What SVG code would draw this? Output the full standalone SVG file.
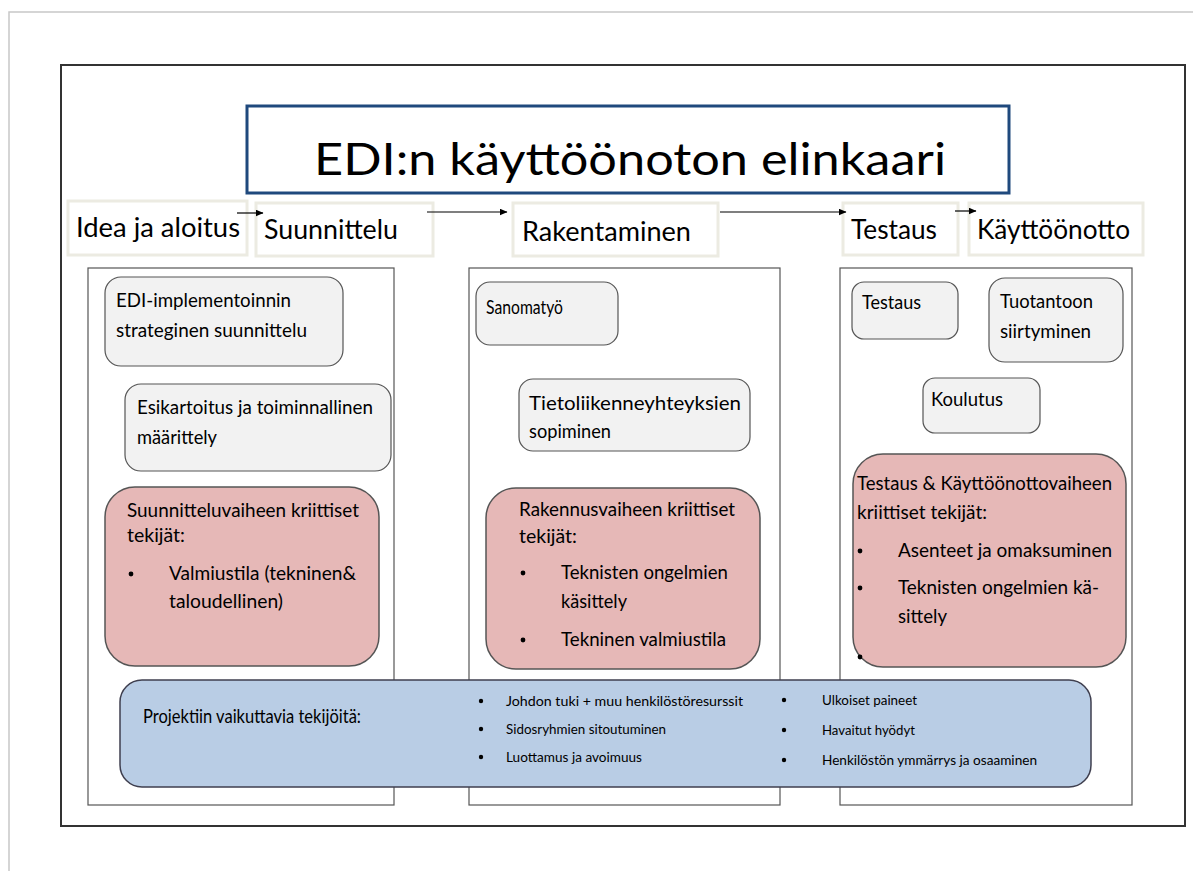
<svg xmlns="http://www.w3.org/2000/svg" width="1193" height="871" viewBox="0 0 1193 871">
  <style>
    text { font-family: Lato, "Open Sans", "Liberation Sans", sans-serif; fill: #000; }
    .title { font-size: 45px; }
    .phase { font-size: 26px; }
    .phase-box { fill: #fff; stroke: #ecebe2; stroke-width: 3; }
    .column { fill: #fff; stroke: #555; stroke-width: 1.2; }
    .task { fill: #f2f2f2; stroke: #555; stroke-width: 1.2; }
    .task-text { font-size: 19.5px; }
    .critical { fill: #e6b8b7; stroke: #555; stroke-width: 1.5; }
    .crit-text { font-size: 18.5px; }
    .factors { fill: #b9cde5; stroke: #3f3f4f; stroke-width: 1.5; }
    .small { font-size: 13px; }
    .connector { stroke: #000; stroke-width: 1.2; fill: none; marker-end: url(#arrow); }
    .dot { fill: #000; }
  </style>
  <defs>
    <marker id="arrow" markerWidth="8" markerHeight="7" refX="7.5" refY="3.5" orient="auto" markerUnits="userSpaceOnUse">
      <path d="M0,0 L8,3.5 L0,7 Z" fill="#000"/>
    </marker>
  </defs>

  <rect width="1193" height="871" fill="#fff"/>
  <!-- page edge -->
  <path d="M9,871 V12 H1193" fill="none" stroke="#c8c8c8" stroke-width="1.5"/>
  <!-- outer frame -->
  <rect x="61" y="65" width="1124" height="761" fill="#fff" stroke="#333" stroke-width="2"/>

  <!-- title -->
  <g id="title">
    <rect x="247" y="106" width="762" height="87" fill="#fff" stroke="#1f497d" stroke-width="3"/>
    <text class="title" x="314" y="175" textLength="632" lengthAdjust="spacingAndGlyphs">EDI:n käyttöönoton elinkaari</text>
  </g>

  <!-- lifecycle phases -->
  <g id="phase-idea">
    <rect class="phase-box" x="68" y="201" width="179" height="54"/>
    <text class="phase" x="76" y="237" textLength="164" lengthAdjust="spacingAndGlyphs">Idea ja aloitus</text>
  </g>
  <g id="phase-suunnittelu">
    <rect class="phase-box" x="256" y="203" width="177" height="53"/>
    <text class="phase" x="264" y="239" textLength="134" lengthAdjust="spacingAndGlyphs">Suunnittelu</text>
  </g>
  <g id="phase-rakentaminen">
    <rect class="phase-box" x="513" y="203" width="205" height="53"/>
    <text class="phase" x="522" y="241" textLength="169" lengthAdjust="spacingAndGlyphs">Rakentaminen</text>
  </g>
  <g id="phase-testaus">
    <rect class="phase-box" x="843" y="203" width="115" height="52"/>
    <text class="phase" x="851" y="239" textLength="86" lengthAdjust="spacingAndGlyphs">Testaus</text>
  </g>
  <g id="phase-kayttoonotto">
    <rect class="phase-box" x="969" y="203" width="174" height="52"/>
    <text class="phase" x="977" y="239" textLength="153" lengthAdjust="spacingAndGlyphs">Käyttöönotto</text>
  </g>

  <!-- arrows between phases -->
  <g id="connectors">
    <line class="connector" x1="237" y1="213" x2="263" y2="213"/>
    <line class="connector" x1="427" y1="212" x2="507" y2="212"/>
    <line class="connector" x1="720" y1="212" x2="846" y2="212"/>
    <line class="connector" x1="955" y1="211" x2="976" y2="211"/>
  </g>

  <!-- phase columns -->
  <g id="column-suunnittelu">
    <rect class="column" x="88" y="268" width="306" height="537"/>
  </g>
  <g id="column-rakentaminen">
    <rect class="column" x="469" y="268" width="311" height="537"/>
  </g>
  <g id="column-testaus">
    <rect class="column" x="840" y="268" width="292" height="537"/>
  </g>

  <!-- planning column -->
  <g id="task-strategia">
    <rect class="task" x="105" y="277" width="238" height="89" rx="16"/>
    <text class="task-text" x="116" y="307" textLength="175" lengthAdjust="spacingAndGlyphs">EDI-implementoinnin</text>
    <text class="task-text" x="116" y="337" textLength="191" lengthAdjust="spacingAndGlyphs">strateginen suunnittelu</text>
  </g>
  <g id="task-esikartoitus">
    <rect class="task" x="125" y="384" width="266" height="87" rx="16"/>
    <text class="task-text" x="137" y="414" textLength="236" lengthAdjust="spacingAndGlyphs">Esikartoitus ja toiminnallinen</text>
    <text class="task-text" x="137" y="444" textLength="80" lengthAdjust="spacingAndGlyphs">määrittely</text>
  </g>
  <g id="critical-suunnittelu">
    <rect class="critical" x="105" y="487" width="274" height="179" rx="30"/>
    <text class="crit-text" x="127" y="517" textLength="232" lengthAdjust="spacingAndGlyphs">Suunnitteluvaiheen kriittiset</text>
    <text class="crit-text" x="127" y="542" textLength="58" lengthAdjust="spacingAndGlyphs">tekijät:</text>
    <circle class="dot" cx="131" cy="574" r="2.4"/>
    <text class="crit-text" x="169" y="580" textLength="187" lengthAdjust="spacingAndGlyphs">Valmiustila (tekninen&amp;</text>
    <text class="crit-text" x="169" y="608" textLength="114" lengthAdjust="spacingAndGlyphs">taloudellinen)</text>
  </g>

  <!-- construction column -->
  <g id="task-sanomatyo">
    <rect class="task" x="476" y="282" width="142" height="63" rx="14"/>
    <text class="task-text" x="486" y="314" textLength="77" lengthAdjust="spacingAndGlyphs">Sanomatyö</text>
  </g>
  <g id="task-tietoliikenne">
    <rect class="task" x="519" y="379" width="231" height="72" rx="14"/>
    <text class="task-text" x="529" y="410" textLength="212" lengthAdjust="spacingAndGlyphs">Tietoliikenneyhteyksien</text>
    <text class="task-text" x="529" y="438" textLength="82" lengthAdjust="spacingAndGlyphs">sopiminen</text>
  </g>
  <g id="critical-rakentaminen">
    <rect class="critical" x="486" y="488" width="274" height="181" rx="30"/>
    <text class="crit-text" x="519" y="516" textLength="216" lengthAdjust="spacingAndGlyphs">Rakennusvaiheen kriittiset</text>
    <text class="crit-text" x="519" y="543" textLength="58" lengthAdjust="spacingAndGlyphs">tekijät:</text>
    <circle class="dot" cx="523" cy="573" r="2.4"/>
    <text class="crit-text" x="561" y="579" textLength="167" lengthAdjust="spacingAndGlyphs">Teknisten ongelmien</text>
    <text class="crit-text" x="561" y="608" textLength="66" lengthAdjust="spacingAndGlyphs">käsittely</text>
    <circle class="dot" cx="523" cy="640" r="2.4"/>
    <text class="crit-text" x="561" y="646" textLength="165" lengthAdjust="spacingAndGlyphs">Tekninen valmiustila</text>
  </g>

  <!-- testing and deployment column -->
  <g id="task-testaus">
    <rect class="task" x="852" y="282" width="106" height="57" rx="12"/>
    <text class="task-text" x="862" y="309" textLength="59" lengthAdjust="spacingAndGlyphs">Testaus</text>
  </g>
  <g id="task-tuotantoon">
    <rect class="task" x="989" y="278" width="134" height="84" rx="16"/>
    <text class="task-text" x="1000" y="308" textLength="93" lengthAdjust="spacingAndGlyphs">Tuotantoon</text>
    <text class="task-text" x="1000" y="338" textLength="91" lengthAdjust="spacingAndGlyphs">siirtyminen</text>
  </g>
  <g id="task-koulutus">
    <rect class="task" x="923" y="378" width="117" height="55" rx="12"/>
    <text class="task-text" x="931" y="406" textLength="72" lengthAdjust="spacingAndGlyphs">Koulutus</text>
  </g>
  <g id="critical-testaus">
    <rect class="critical" x="853" y="454" width="273" height="213" rx="30"/>
    <text class="crit-text" x="857" y="490" textLength="255" lengthAdjust="spacingAndGlyphs">Testaus &amp; Käyttöönottovaiheen</text>
    <text class="crit-text" x="857" y="519" textLength="130" lengthAdjust="spacingAndGlyphs">kriittiset tekijät:</text>
    <circle class="dot" cx="860" cy="551" r="2.4"/>
    <text class="crit-text" x="898" y="557" textLength="214" lengthAdjust="spacingAndGlyphs">Asenteet ja omaksuminen</text>
    <circle class="dot" cx="860" cy="588" r="2.4"/>
    <text class="crit-text" x="898" y="594" textLength="201" lengthAdjust="spacingAndGlyphs">Teknisten ongelmien kä-</text>
    <text class="crit-text" x="898" y="623" textLength="49" lengthAdjust="spacingAndGlyphs">sittely</text>
    <circle class="dot" cx="860" cy="657" r="2.4"/>
  </g>

  <!-- factors affecting the whole project -->
  <g id="project-factors">
    <rect class="factors" x="120" y="680" width="971" height="107" rx="22"/>
    <text x="143" y="723" font-size="20" textLength="218" lengthAdjust="spacingAndGlyphs">Projektiin vaikuttavia tekijöitä:</text>
    <circle class="dot" cx="481" cy="701" r="2.2"/>
    <circle class="dot" cx="481" cy="729" r="2.2"/>
    <circle class="dot" cx="481" cy="757" r="2.2"/>
    <text class="small" x="506" y="706" textLength="237" lengthAdjust="spacingAndGlyphs">Johdon tuki + muu henkilöstöresurssit</text>
    <text class="small" x="506" y="734" textLength="160" lengthAdjust="spacingAndGlyphs">Sidosryhmien sitoutuminen</text>
    <text class="small" x="506" y="762" textLength="136" lengthAdjust="spacingAndGlyphs">Luottamus ja avoimuus</text>
    <circle class="dot" cx="784" cy="700" r="2.2"/>
    <circle class="dot" cx="784" cy="730" r="2.2"/>
    <circle class="dot" cx="784" cy="760" r="2.2"/>
    <text class="small" x="822" y="705" textLength="95" lengthAdjust="spacingAndGlyphs">Ulkoiset paineet</text>
    <text class="small" x="822" y="735" textLength="93" lengthAdjust="spacingAndGlyphs">Havaitut hyödyt</text>
    <text class="small" x="822" y="765" textLength="215" lengthAdjust="spacingAndGlyphs">Henkilöstön ymmärrys ja osaaminen</text>
  </g>
</svg>
